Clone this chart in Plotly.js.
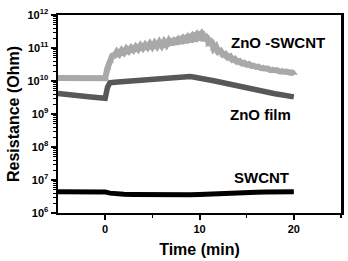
<!DOCTYPE html>
<html>
<head>
<meta charset="utf-8">
<script src="https://cdn.plot.ly/plotly-3.0.1.min.js"></script>
<style>
  html, body { margin: 0; padding: 0; background: #fff; }
  #chart { width: 348px; height: 261px; }
</style>
</head>
<body>
<div id="chart"></div>
<script>
// Resistance response over time (log scale), three sensor types
var tHybrid = [-5, -4.5, -4, -3.5, -3, -2.5, -2, -1.5, -1, -0.5, 0,
  0.25, 0.5, 0.75, 1, 1.25, 1.5, 1.75, 2, 2.25, 2.5, 2.75, 3, 3.25, 3.5, 3.75, 4,
  4.25, 4.5, 4.75, 5, 5.25, 5.5, 5.75, 6, 6.25, 6.5, 6.75, 7, 7.25, 7.5, 7.75, 8,
  8.25, 8.5, 8.75, 9, 9.25, 9.5, 9.75, 10, 10.25, 10.5, 10.75, 11, 11.25, 11.5, 11.75, 12,
  12.25, 12.5, 12.75, 13, 13.25, 13.5, 13.75, 14, 14.25, 14.5, 14.75, 15, 15.25, 15.5, 15.75, 16,
  16.25, 16.5, 16.75, 17, 17.25, 17.5, 17.75, 18, 18.25, 18.5, 18.75, 19, 19.25, 19.5, 19.75, 20];
var rHybrid = [1.23e10, 1.22e10, 1.24e10, 1.21e10, 1.23e10, 1.22e10, 1.2e10, 1.22e10, 1.21e10, 1.2e10, 1.22e10,
  2.5e10, 4.0e10, 5.8e10, 5.9e10, 7.8e10, 6.5e10, 8.6e10, 7.2e10, 9.5e10, 8.0e10, 1.02e11, 8.6e10, 1.1e11, 9.2e10, 1.2e11, 9.8e10,
  1.26e11, 1.04e11, 1.36e11, 1.08e11, 1.42e11, 1.12e11, 1.5e11, 1.16e11, 1.58e11, 1.24e11, 1.68e11, 1.3e11, 1.82e11, 1.38e11, 2.0e11, 1.45e11,
  2.2e11, 1.52e11, 2.4e11, 1.6e11, 2.6e11, 1.7e11, 2.9e11, 1.85e11, 3.1e11, 1.75e11, 2.3e11, 1.25e11, 1.7e11, 9.5e10, 1.12e11, 7.6e10,
  8.2e10, 6.2e10, 6.6e10, 5.2e10, 5.6e10, 4.4e10, 4.7e10, 3.8e10, 4.0e10, 3.4e10, 3.55e10, 3.1e10, 3.25e10, 2.85e10, 2.9e10, 2.65e10,
  2.7e10, 2.45e10, 2.5e10, 2.3e10, 2.35e10, 2.15e10, 2.2e10, 2.05e10, 2.1e10, 1.95e10, 2.0e10, 1.86e10, 1.92e10, 1.8e10, 1.84e10, 1.76e10];

var tFilm = [-5, -4.5, -4, -3.5, -3, -2.5, -2, -1.5, -1, -0.5, 0, 0.25, 0.5,
  1, 1.5, 2, 2.5, 3, 3.5, 4, 4.5, 5, 5.5, 6, 6.5, 7, 7.5, 8, 8.5, 9, 9.5, 10,
  10.5, 11, 11.5, 12, 12.5, 13, 13.5, 14, 14.5, 15, 15.5, 16, 16.5, 17, 17.5, 18, 18.5, 19, 19.5, 20];
var rFilm = [4.2e9, 4.0e9, 3.9e9, 3.8e9, 3.6e9, 3.5e9, 3.4e9, 3.3e9, 3.2e9, 3.1e9, 3.0e9, 6.5e9, 8.8e9,
  9.2e9, 9.4e9, 9.6e9, 9.7e9, 1.0e10, 1.02e10, 1.05e10, 1.08e10, 1.1e10, 1.15e10, 1.18e10, 1.22e10, 1.25e10, 1.3e10, 1.35e10, 1.38e10, 1.36e10, 1.3e10, 1.25e10,
  1.18e10, 1.1e10, 1.02e10, 9.5e9, 8.8e9, 8.1e9, 7.5e9, 6.9e9, 6.5e9, 6.1e9, 5.7e9, 5.3e9, 5.0e9, 4.7e9, 4.4e9, 4.1e9, 3.9e9, 3.7e9, 3.5e9, 3.3e9];

var tTube = [-5, -4, -3, -2, -1, 0, 0.5, 1, 2, 3, 4, 5, 6, 7, 8, 9, 10,
  11, 12, 13, 14, 15, 16, 17, 18, 19, 20];
var rTube = [4.4e6, 4.4e6, 4.4e6, 4.35e6, 4.4e6, 4.35e6, 4.0e6, 3.8e6, 3.7e6, 3.65e6, 3.6e6, 3.6e6, 3.55e6, 3.55e6, 3.6e6, 3.6e6, 3.65e6,
  3.8e6, 3.95e6, 4.05e6, 4.15e6, 4.2e6, 4.25e6, 4.3e6, 4.35e6, 4.4e6, 4.4e6];

var yTickVals = [1e6, 1e7, 1e8, 1e9, 1e10, 1e11, 1e12];
var yTickText = ['10<sup>6</sup>', '10<sup>7</sup>', '10<sup>8</sup>', '10<sup>9</sup>',
  '10<sup>10</sup>', '10<sup>11</sup>', '10<sup>12</sup>'];
var xTickVals = [0, 10, 20];
var xTickText = ['0', '10', '20'];

var FONT = 'Liberation Sans, Arial, sans-serif';

var traces = [
  {
    x: tHybrid, y: rHybrid, type: 'scatter', mode: 'lines+markers',
    line: { color: '#a9a9a9', width: 6 },
    marker: { symbol: 'triangle-up', size: 7, color: '#a9a9a9' },
    name: 'ZnO -SWCNT'
  },
  {
    x: tFilm, y: rFilm, type: 'scatter', mode: 'lines',
    line: { color: '#585858', width: 5.5 },
    name: 'ZnO film'
  },
  {
    x: tTube, y: rTube, type: 'scatter', mode: 'lines',
    line: { color: '#000000', width: 5 },
    name: 'SWCNT'
  }
];

var layout = {
  width: 348, height: 261,
  margin: { l: 58, r: 7, t: 15, b: 48 },
  paper_bgcolor: '#fff', plot_bgcolor: '#fff',
  showlegend: false,
  font: { family: FONT, color: '#000' },
  xaxis: {
    range: [-5, 25],
    tickvals: xTickVals, ticktext: xTickText,
    ticks: 'outside', ticklen: 5, tickwidth: 2, tickcolor: '#000',
    minor: { tickvals: [5, 15, 25], ticks: 'outside', ticklen: 3, tickwidth: 1.5, tickcolor: '#000' },
    tickfont: { family: FONT, size: 11, color: '#000', weight: 'bold' },
    showline: true, linecolor: '#000', linewidth: 2, mirror: true,
    showgrid: false, zeroline: false,
    title: { text: '<b>Time (min)</b>', font: { family: FONT, size: 16, color: '#000' }, standoff: 10 }
  },
  yaxis: {
    type: 'log', range: [6, 12],
    tickvals: yTickVals, ticktext: yTickText,
    ticks: 'outside', ticklen: 5, tickwidth: 2, tickcolor: '#000',
    minor: { ticks: 'outside', ticklen: 3, tickwidth: 1, tickcolor: '#000', dtick: 'D1' },
    tickfont: { family: FONT, size: 11, color: '#000', weight: 'bold' },
    showline: true, linecolor: '#000', linewidth: 2.5, mirror: true,
    showgrid: false, zeroline: false,
    title: { text: '<b>Resistance (Ohm)</b>', font: { family: FONT, size: 16, color: '#000' }, standoff: 4 }
  },
  annotations: [
    { x: 18.3, y: 11.18, xref: 'x', yref: 'y', text: '<b>ZnO -SWCNT</b>', showarrow: false,
      font: { family: FONT, size: 15, color: '#000' } },
    { x: 16.5, y: 8.97, xref: 'x', yref: 'y', text: '<b>ZnO film</b>', showarrow: false,
      font: { family: FONT, size: 15, color: '#000' } },
    { x: 16.6, y: 7.09, xref: 'x', yref: 'y', text: '<b>SWCNT</b>', showarrow: false,
      font: { family: FONT, size: 15, color: '#000' } }
  ]
};

Plotly.newPlot('chart', traces, layout, { displayModeBar: false, staticPlot: true });
</script>
</body>
</html>
